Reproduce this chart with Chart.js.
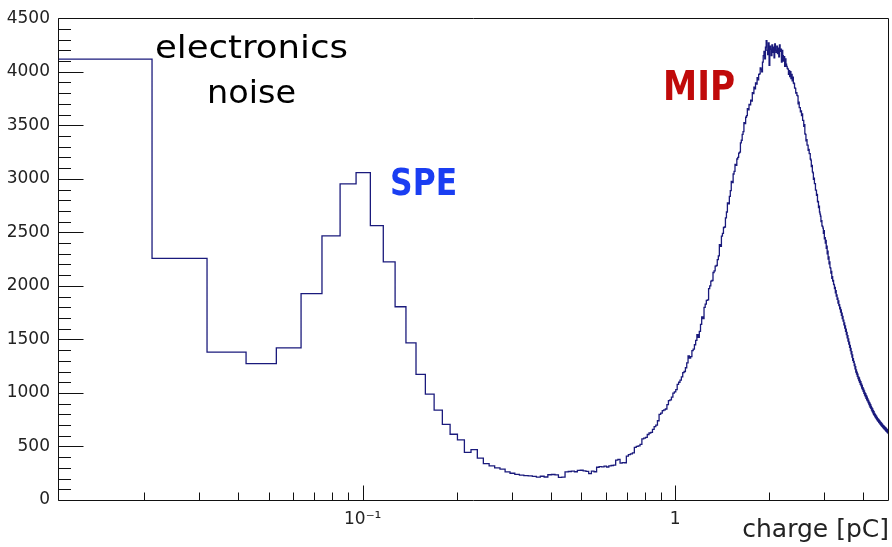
<!DOCTYPE html>
<html>
<head>
<meta charset="utf-8">
<script src="https://cdn.jsdelivr.net/npm/chart.js@4/dist/chart.umd.min.js"></script>
<style>
  html, body { margin: 0; padding: 0; background: #fff; }
  #wrap { width: 892px; height: 547px; }
</style>
</head>
<body>
<div id="wrap"><canvas id="chart" width="892" height="547"></canvas></div>
<script>
// ---------------------------------------------
// Charge spectrum, fixed-width bins (pC)
// ---------------------------------------------
const binWidth = 0.01058;
const xMin = 0.01058;
const xMax = 4.84;
const yMax = 4500;

// bins 1..100 : noise, SPE peak and valley
const lowCounts = [
  4118, 2256, 1381, 1273, 1421, 1928, 2466, 2952, 3057, 2563,
  2225, 1805, 1468, 1174, 988, 840, 707, 614, 561, 444,
  470, 392, 340, 318, 300, 288, 262, 250, 240, 232,
  228, 226, 220, 214, 222, 215, 236, 238, 234, 212,
  214, 262, 266, 270, 264, 276, 278, 272, 268, 246,
  270, 264, 306, 312, 310, 316, 308, 318, 322, 326,
  372, 380, 344, 350, 348, 410, 424, 430, 440, 492,
  500, 506, 520, 570, 578, 584, 612, 626, 632, 660,
  686, 700, 740, 800, 812, 834, 842, 850, 890, 928,
  936, 960, 998, 1010, 1030, 1080, 1100, 1120, 1150, 1190
];

// bins 101..200 : MIP rising edge and top
const mipRiseCounts = [
  1200, 1235, 1280, 1345, 1325, 1340, 1395, 1410, 1450, 1490,
  1545, 1520, 1575, 1640, 1710, 1695, 1800, 1830, 1865, 1870,
  1975, 2000, 2045, 2050, 2125, 2140, 2185, 2190, 2245, 2280,
  2385, 2370, 2465, 2490, 2545, 2550, 2635, 2690, 2775, 2765,
  2835, 2890, 2975, 2965, 3045, 3070, 3135, 3125, 3185, 3200,
  3240, 3250, 3335, 3360, 3415, 3440, 3525, 3515, 3575, 3590,
  3655, 3645, 3695, 3690, 3735, 3725, 3805, 3795, 3855, 3840,
  3895, 3885, 3945, 3925, 3975, 3980, 4035, 4025, 4000, 4090,
  4150, 4190, 4120, 4230, 4290, 4200, 4160, 4270, 4060, 4240,
  4210, 4150, 4250, 4180, 4230, 4130, 4260, 4200, 4180, 4240
];

// bins 201..457 : MIP falling edge
const mipFallCounts = [
  4170, 4220, 4140, 4250, 4190, 4210, 4090, 4200, 4150, 4100,
  4140, 4050, 4120, 4070, 4050, 4030, 4025, 3975, 4010, 3955,
  4000, 3935, 3975, 3915, 3950, 3895, 3890, 3850, 3845, 3800,
  3805, 3780, 3775, 3700, 3715, 3665, 3665, 3625, 3635, 3590,
  3605, 3545, 3545, 3490, 3505, 3420, 3415, 3355, 3365, 3315,
  3315, 3265, 3275, 3235, 3235, 3185, 3175, 3115, 3125, 3065,
  3055, 2995, 3005, 2955, 2955, 2895, 2895, 2845, 2855, 2785,
  2790, 2730, 2745, 2690, 2670, 2650, 2600, 2610, 2560, 2555,
  2540, 2490, 2515, 2440, 2450, 2400, 2425, 2350, 2370, 2300,
  2325, 2250, 2270, 2205, 2225, 2170, 2165, 2120, 2135, 2070,
  2085, 2045, 2050, 2015, 2010, 1975, 1985, 1935, 1955, 1905,
  1915, 1875, 1885, 1840, 1860, 1815, 1825, 1785, 1800, 1755,
  1775, 1725, 1745, 1695, 1715, 1670, 1680, 1635, 1655, 1605,
  1625, 1575, 1595, 1545, 1565, 1515, 1535, 1485, 1505, 1455,
  1475, 1425, 1445, 1395, 1415, 1365, 1385, 1335, 1355, 1305,
  1320, 1285, 1295, 1255, 1270, 1225, 1245, 1195, 1215, 1175,
  1195, 1155, 1175, 1135, 1150, 1115, 1140, 1100, 1120, 1080,
  1105, 1065, 1085, 1045, 1070, 1030, 1050, 1015, 1035, 995,
  1020, 980, 1000, 965, 990, 950, 975, 935, 960, 925,
  945, 910, 930, 895, 915, 880, 905, 865, 890, 855,
  875, 840, 860, 825, 850, 815, 835, 800, 825, 790,
  810, 780, 800, 770, 790, 760, 780, 750, 770, 742,
  760, 735, 752, 726, 745, 718, 738, 710, 730, 702,
  722, 696, 715, 688, 708, 682, 700, 675, 695, 668,
  688, 662, 682, 655, 676, 648, 670, 642, 664, 636,
  658, 630, 652, 624, 648, 618, 640
];

// axis ticks
const xMajorTicks = [0.1, 1];
const xMajorLabels = ['10\u207B\u00B9', '1'];
const xMinorTicks = [0.02, 0.03, 0.04, 0.05, 0.06, 0.07, 0.08, 0.09,
                     0.2, 0.3, 0.4, 0.5, 0.6, 0.7, 0.8, 0.9, 2, 3, 4];
const yLabelStep = 500;
const yMinorStep = 100;

// text annotations (charge, counts at baseline)
const noteTexts = ['electronics', 'noise', 'SPE', 'MIP'];
const noteCharge = [0.04405, 0.04405, 0.1566, 1.193];
const noteCounts = [4124, 3707, 2853, 3734];

const lineColor = '#1a1a7c';
const axisFont = "'DejaVu Sans', sans-serif";

const counts = lowCounts.concat(mipRiseCounts, mipFallCounts);
// one point per bin at its left edge, plus the closing right edge
const points = counts.map((c, i) => ({ x: (i + 1) * binWidth, y: c }));
points.push({ x: (counts.length + 1) * binWidth, y: counts[counts.length - 1] });

function stretchText(ctx, text, cx, base, font, color, width) {
  ctx.save();
  ctx.font = font;
  ctx.fillStyle = color;
  ctx.textAlign = 'center';
  ctx.textBaseline = 'alphabetic';
  const w = ctx.measureText(text).width;
  ctx.translate(cx, base);
  ctx.scale(width / w, 1);
  ctx.fillText(text, 0, 0);
  ctx.restore();
}

const rootFrame = {
  id: 'rootFrame',
  afterDraw(chart) {
    const { ctx, chartArea: a, scales: { x, y } } = chart;
    const L = Math.round(a.left) + 0.5, R = Math.round(a.right) - 0.5;
    const T = Math.round(a.top) + 0.5, B = Math.round(a.bottom) + 0.5;
    ctx.save();
    ctx.strokeStyle = '#111';
    ctx.lineWidth = 1;
    ctx.beginPath();
    ctx.rect(L, T, R - L, B - T);
    // y ticks, inward
    for (let v = 0; v <= yMax; v += yMinorStep) {
      const py = Math.round(y.getPixelForValue(v)) + 0.5;
      const len = v % yLabelStep === 0 ? 25 : 12.5;
      ctx.moveTo(L, py);
      ctx.lineTo(L + len, py);
    }
    // x ticks, inward
    xMajorTicks.forEach(v => {
      const px = Math.round(x.getPixelForValue(v)) + 0.5;
      ctx.moveTo(px, B);
      ctx.lineTo(px, B - 15);
    });
    xMinorTicks.forEach(v => {
      const px = Math.round(x.getPixelForValue(v)) + 0.5;
      ctx.moveTo(px, B);
      ctx.lineTo(px, B - 8);
    });
    ctx.stroke();
    ctx.restore();

    // annotations
    const px = i => x.getPixelForValue(noteCharge[i]);
    const py = i => y.getPixelForValue(noteCounts[i]);
    stretchText(ctx, noteTexts[0], px(0), py(0), "32px 'DejaVu Sans'", '#000', 193);
    stretchText(ctx, noteTexts[1], px(1), py(1), "32px 'DejaVu Sans'", '#000', 89);
    stretchText(ctx, noteTexts[2], px(2), py(2), "bold 38px 'DejaVu Sans'", '#1a3ef2', 67);
    stretchText(ctx, noteTexts[3], px(3), py(3), "bold 41px 'DejaVu Sans'", '#c00a0a', 72);
  }
};

new Chart(document.getElementById('chart'), {
  type: 'line',
  data: {
    datasets: [{
      data: points,
      borderColor: lineColor,
      borderWidth: 1.3,
      pointRadius: 0,
      stepped: 'before',
      fill: false,
    }],
  },
  options: {
    responsive: false,
    animation: false,
    devicePixelRatio: 1,
    layout: { autoPadding: false, padding: { top: 15, right: 3, left: 0, bottom: 0 } },
    plugins: { legend: { display: false }, tooltip: { enabled: false } },
    scales: {
      x: {
        type: 'logarithmic',
        min: xMin,
        max: xMax,
        grid: { display: false, drawTicks: false },
        border: { display: false },
        afterBuildTicks: s => { s.ticks = xMajorTicks.map(v => ({ value: v })); },
        afterFit: s => { s.height = 47; },
        ticks: {
          autoSkip: false,
          maxRotation: 0,
          padding: 9,
          color: '#222',
          font: { family: axisFont, size: 17 },
          callback: (v, i) => xMajorLabels[i],
        },
        title: {
          display: true,
          text: 'charge [pC]',
          align: 'end',
          color: '#222',
          font: { family: axisFont, size: 25 },
          padding: { top: 0, bottom: 2 },
        },
      },
      y: {
        min: 0,
        max: yMax,
        grid: { display: false, drawTicks: false },
        border: { display: false },
        afterFit: s => { s.width = 58; },
        ticks: {
          stepSize: yLabelStep,
          padding: 8,
          color: '#222',
          font: { family: axisFont, size: 17 },
          callback: v => String(v),
        },
      },
    },
  },
  plugins: [rootFrame],
});
</script>
</body>
</html>
